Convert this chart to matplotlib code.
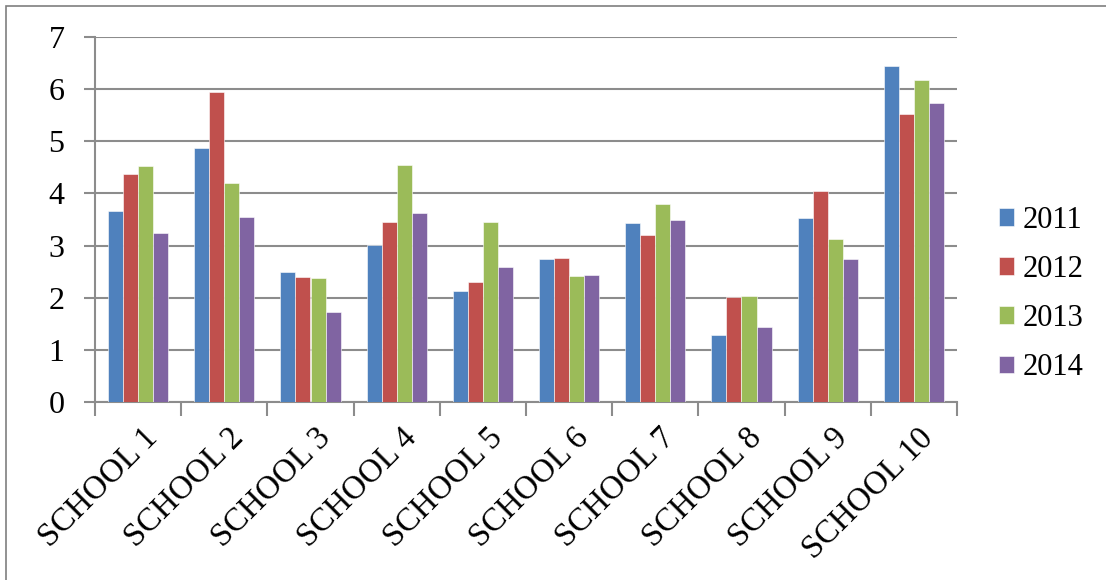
import matplotlib.pyplot as plt
import numpy as np
from matplotlib.patches import Rectangle

# values
schools = [f"SCHOOL {i}" for i in range(1, 11)]
years = ["2011", "2012", "2013", "2014"]
v2011 = [3.67, 4.87, 2.50, 3.01, 2.12, 2.75, 3.43, 1.28, 3.52, 6.44]
v2012 = [4.37, 5.94, 2.40, 3.46, 2.30, 2.77, 3.21, 2.01, 4.04, 5.53]
v2013 = [4.52, 4.20, 2.37, 4.54, 3.46, 2.42, 3.79, 2.03, 3.12, 6.17]
v2014 = [3.24, 3.54, 1.73, 3.62, 2.58, 2.43, 3.50, 1.44, 2.74, 5.73]
colors = ["#4F81BD", "#C0504D", "#9BBB59", "#8064A2"]

plt.rcParams["font.family"] = ["Liberation Serif", "DejaVu Serif"]
grid_col = "#8c8c8c"

fig = plt.figure(figsize=(11.06, 5.80), dpi=100)
ax = fig.add_axes([95 / 1106, 1 - 402 / 580, 862 / 1106, 365 / 580])

# outer frame of the picture (only top and left are visible)
fig.patches.append(Rectangle((6 / 1106, -0.1), 1.2, 1 - 6 / 580 + 0.1,
                             transform=fig.transFigure, fill=False,
                             edgecolor="#7f7f7f", linewidth=1.2))

x = np.arange(len(schools))
w = 0.175
for i, (vals, yr) in enumerate(zip([v2011, v2012, v2013, v2014], years)):
    ax.bar(x + (i - 1.5) * w, vals, w, color=colors[i], label=yr,
           edgecolor="white", linewidth=0.4, zorder=3)

ax.set_xlim(-0.5, len(schools) - 0.5)
ax.set_ylim(0, 7)
ax.set_yticks(range(8))
ax.yaxis.grid(True, color=grid_col, linewidth=1.5, zorder=0)

for s in ["top", "right"]:
    ax.spines[s].set_visible(False)
for s in ["left", "bottom"]:
    ax.spines[s].set_color(grid_col)
    ax.spines[s].set_linewidth(1.5)

ax.set_xticks(np.arange(len(schools) + 1) - 0.5)
ax.set_xticklabels([])
ax.set_xticks(x + 0.05, minor=True)
ax.set_xticklabels(schools, minor=True, rotation=45, ha="right",
                   rotation_mode="anchor", fontsize=23.5)
ax.tick_params(axis="x", which="major", length=10, width=1.5, color=grid_col)
ax.tick_params(axis="x", which="minor", length=0, pad=15)
ax.tick_params(axis="y", length=8, width=1.5, color=grid_col, labelsize=23, pad=14)

ax.legend(loc="center left", bbox_to_anchor=(0.878, 0.493), bbox_transform=fig.transFigure,
          frameon=False, fontsize=22, handlelength=0.52, handleheight=0.52,
          handletextpad=0.28, labelspacing=0.66)

fig.savefig("out.png", dpi=100)
